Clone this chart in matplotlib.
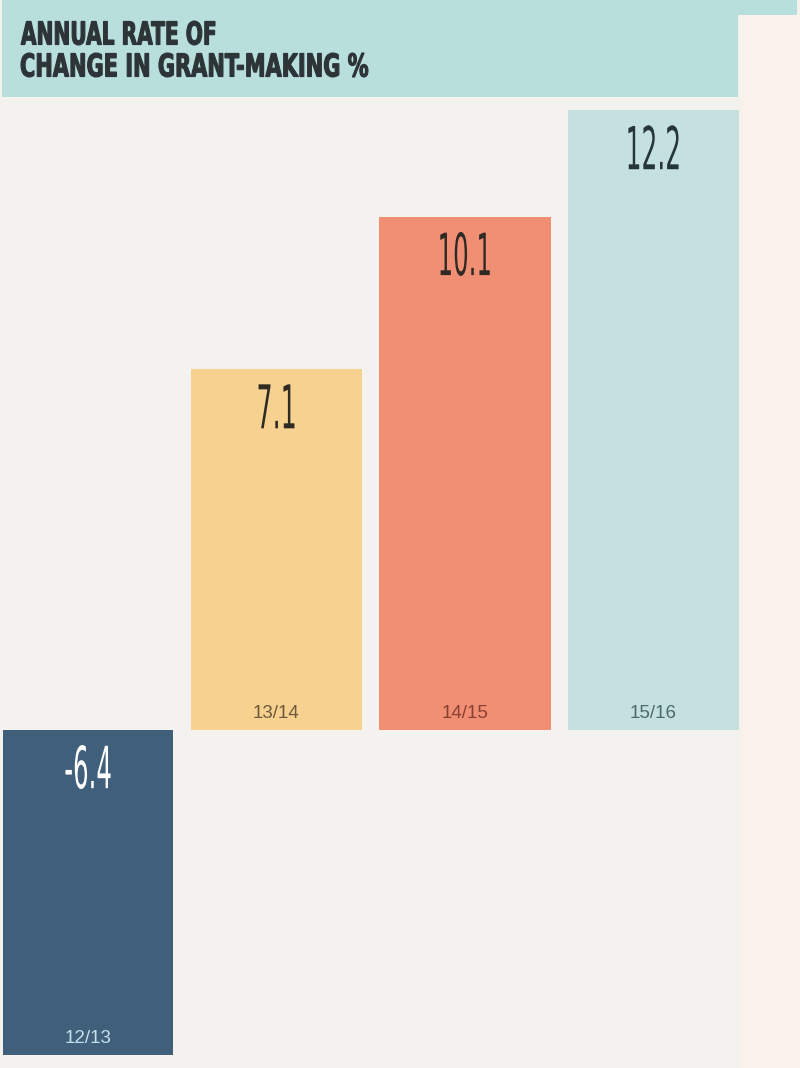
import matplotlib
matplotlib.use("Agg")
import matplotlib.pyplot as plt
import matplotlib.transforms as mtransforms
from matplotlib.font_manager import FontProperties
from matplotlib.patches import PathPatch, Rectangle
from matplotlib.textpath import TextPath

# data
periods = ["12/13", "13/14", "14/15", "15/16"]
rates = [-6.4, 7.1, 10.1, 12.2]
title_lines = ["ANNUAL RATE OF", "CHANGE IN GRANT-MAKING %"]

# colours
BG = "#f4f2ee"
BAND = "#b9dfdd"
RIGHT = "#f8f1ec"
bar_colors = ["#3f5f7b", "#f7d18f", "#f08f74", "#c4e1df"]
value_colors = ["#ffffff", "#2f2a24", "#2f2a24", "#263638"]
period_colors = ["#c4e0ec", "#6d5a3c", "#8a4030", "#4d6a6c"]
TITLE_COLOR = "#2d3437"

W, H = 800, 1068
fig = plt.figure(figsize=(W / 100, H / 100), dpi=100, facecolor=BG)
ax = fig.add_axes([0, 0, 1, 1])
ax.set_facecolor(BG)
ax.axis("off")

# scale: ~50.8 px per percentage point, baseline 730 px from the top
ppu = 50.8
pitch = 188.5
ax.set_xlim(-88 / pitch, (W - 88) / pitch)
ax.set_ylim(-(H - 730) / ppu, 730 / ppu)

# background decorations (figure coords)
ft = fig.transFigure
ax.add_patch(Rectangle((740 / W, 0), 60 / W, 1 - 15 / H, color=RIGHT,
                       transform=ft, zorder=0, lw=0))
ax.add_patch(Rectangle((2 / W, 1 - 97 / H), 736 / W, 97 / H, color=BAND,
                       transform=ft, zorder=0, lw=0))
ax.add_patch(Rectangle((2 / W, 1 - 15 / H), 795 / W, 15 / H, color=BAND,
                       transform=ft, zorder=0, lw=0))

xs = list(range(len(rates)))
ax.bar(xs, rates, width=171 / pitch, color=bar_colors, zorder=2, lw=0)


def path_text(s, x, y_top, cap, color, ha="center", weight="normal",
              width=None, squeeze=0.42, stroke=0.0):
    """Draw text as a path, condensed horizontally (display pixels)."""
    prop = FontProperties(family="DejaVu Sans", weight=weight)
    path = TextPath((0, 0), s, size=1, prop=prop)
    ext = path.get_extents()
    sy = cap / ext.height
    sx = width / ext.width if width else sy * squeeze
    w = ext.width * sx
    x0 = x - w / 2 if ha == "center" else x
    tr = (mtransforms.Affine2D()
          .translate(-ext.x0, -ext.y1)
          .scale(sx, sy)
          .translate(x0, y_top))
    patch = PathPatch(path, facecolor=color,
                      edgecolor=color if stroke else "none",
                      lw=stroke, transform=tr, zorder=5)
    fig.patches.append(patch)
    patch.set_figure(fig)


fig.canvas.draw()

for i, (p, r) in enumerate(zip(periods, rates)):
    top = max(r, 0)
    bottom = min(r, 0)
    xd, yd = ax.transData.transform((i, top))
    path_text(f"{r:.1f}", xd, yd - 15, 44, value_colors[i])
    ax.annotate(p, xy=(i, bottom), xytext=(0, 12 * 0.72),
                textcoords="offset points", ha="center", va="baseline",
                fontsize=13.5, family="Liberation Sans",
                color=period_colors[i], zorder=5)

# title
path_text(title_lines[0], 21, H - 21, 24, TITLE_COLOR, ha="left",
          weight="bold", width=194, stroke=0.8)
path_text(title_lines[1], 21, H - 53, 24, TITLE_COLOR, ha="left",
          weight="bold", width=347, stroke=0.8)

fig.savefig("out.png", dpi=100, facecolor=BG)
